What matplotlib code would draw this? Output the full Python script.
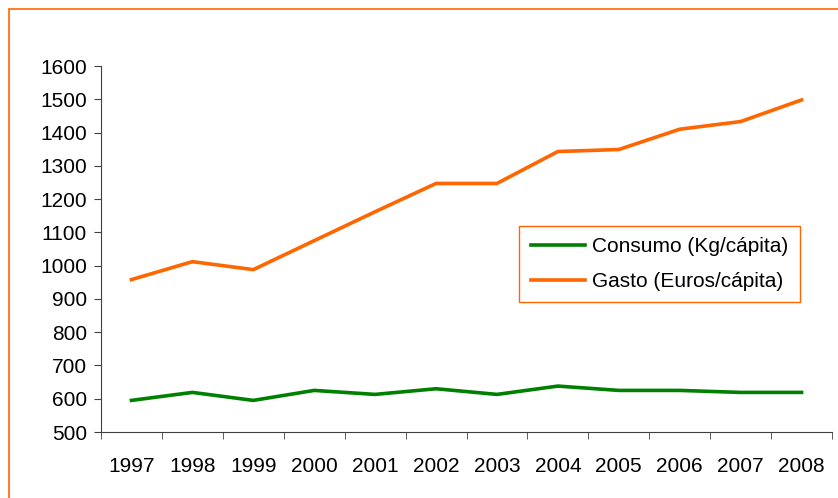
import matplotlib
matplotlib.use('Agg')
import matplotlib.pyplot as plt
from matplotlib.patches import Rectangle

years = ['1997', '1998', '1999', '2000', '2001', '2002',
         '2003', '2004', '2005', '2006', '2007', '2008']
consumo = [595, 619, 595, 625, 613, 630, 613, 638, 625, 625, 619, 619]
gasto = [958, 1012, 988, 1075, 1162, 1247, 1247, 1343, 1349, 1410, 1433, 1498]

plt.rcParams['font.family'] = ['Liberation Sans', 'DejaVu Sans']

W, H = 838, 498
fig = plt.figure(figsize=(W / 100, H / 100), dpi=100)
ax = fig.add_axes([101 / W, 66 / H, 731 / W, 366 / H])

x = list(range(len(years)))
ax.plot(x, consumo, color='#008000', lw=2.6, label='Consumo (Kg/cápita)')
ax.plot(x, gasto, color='#FF6600', lw=2.6, label='Gasto (Euros/cápita)')

ax.set_xlim(-0.5, len(years) - 0.5)
ax.set_ylim(500, 1600)
ax.set_yticks(range(500, 1601, 100))
ax.set_xticks(x)
ax.set_xticklabels(years)
ax.set_xticks([i - 0.5 for i in range(len(years) + 1)], minor=True)
ax.tick_params(axis='x', which='major', length=0, pad=18, labelsize=15)
ax.tick_params(axis='x', which='minor', length=5, color='#404040')
ax.tick_params(axis='y', length=5, color='#404040', labelsize=15, pad=5)

for s in ['top', 'right']:
    ax.spines[s].set_visible(False)
for s in ['left', 'bottom']:
    ax.spines[s].set_color('#404040')

leg = ax.legend(loc='upper left', bbox_to_anchor=(0.572, 0.563), fontsize=15,
                borderaxespad=0, handlelength=2.6, handletextpad=0.35,
                borderpad=0.55, labelspacing=0.75, fancybox=False, framealpha=1)
leg.get_frame().set_edgecolor('#FF6600')
leg.get_frame().set_linewidth(1)

# orange outer frame (cut off at right and bottom)
fig.add_artist(Rectangle((9 / W, -0.2), 1.2, 1.2 - 9 / H, transform=fig.transFigure,
                         fill=False, edgecolor='#FF6600', lw=1.2))

fig.savefig('out.png', dpi=100)
